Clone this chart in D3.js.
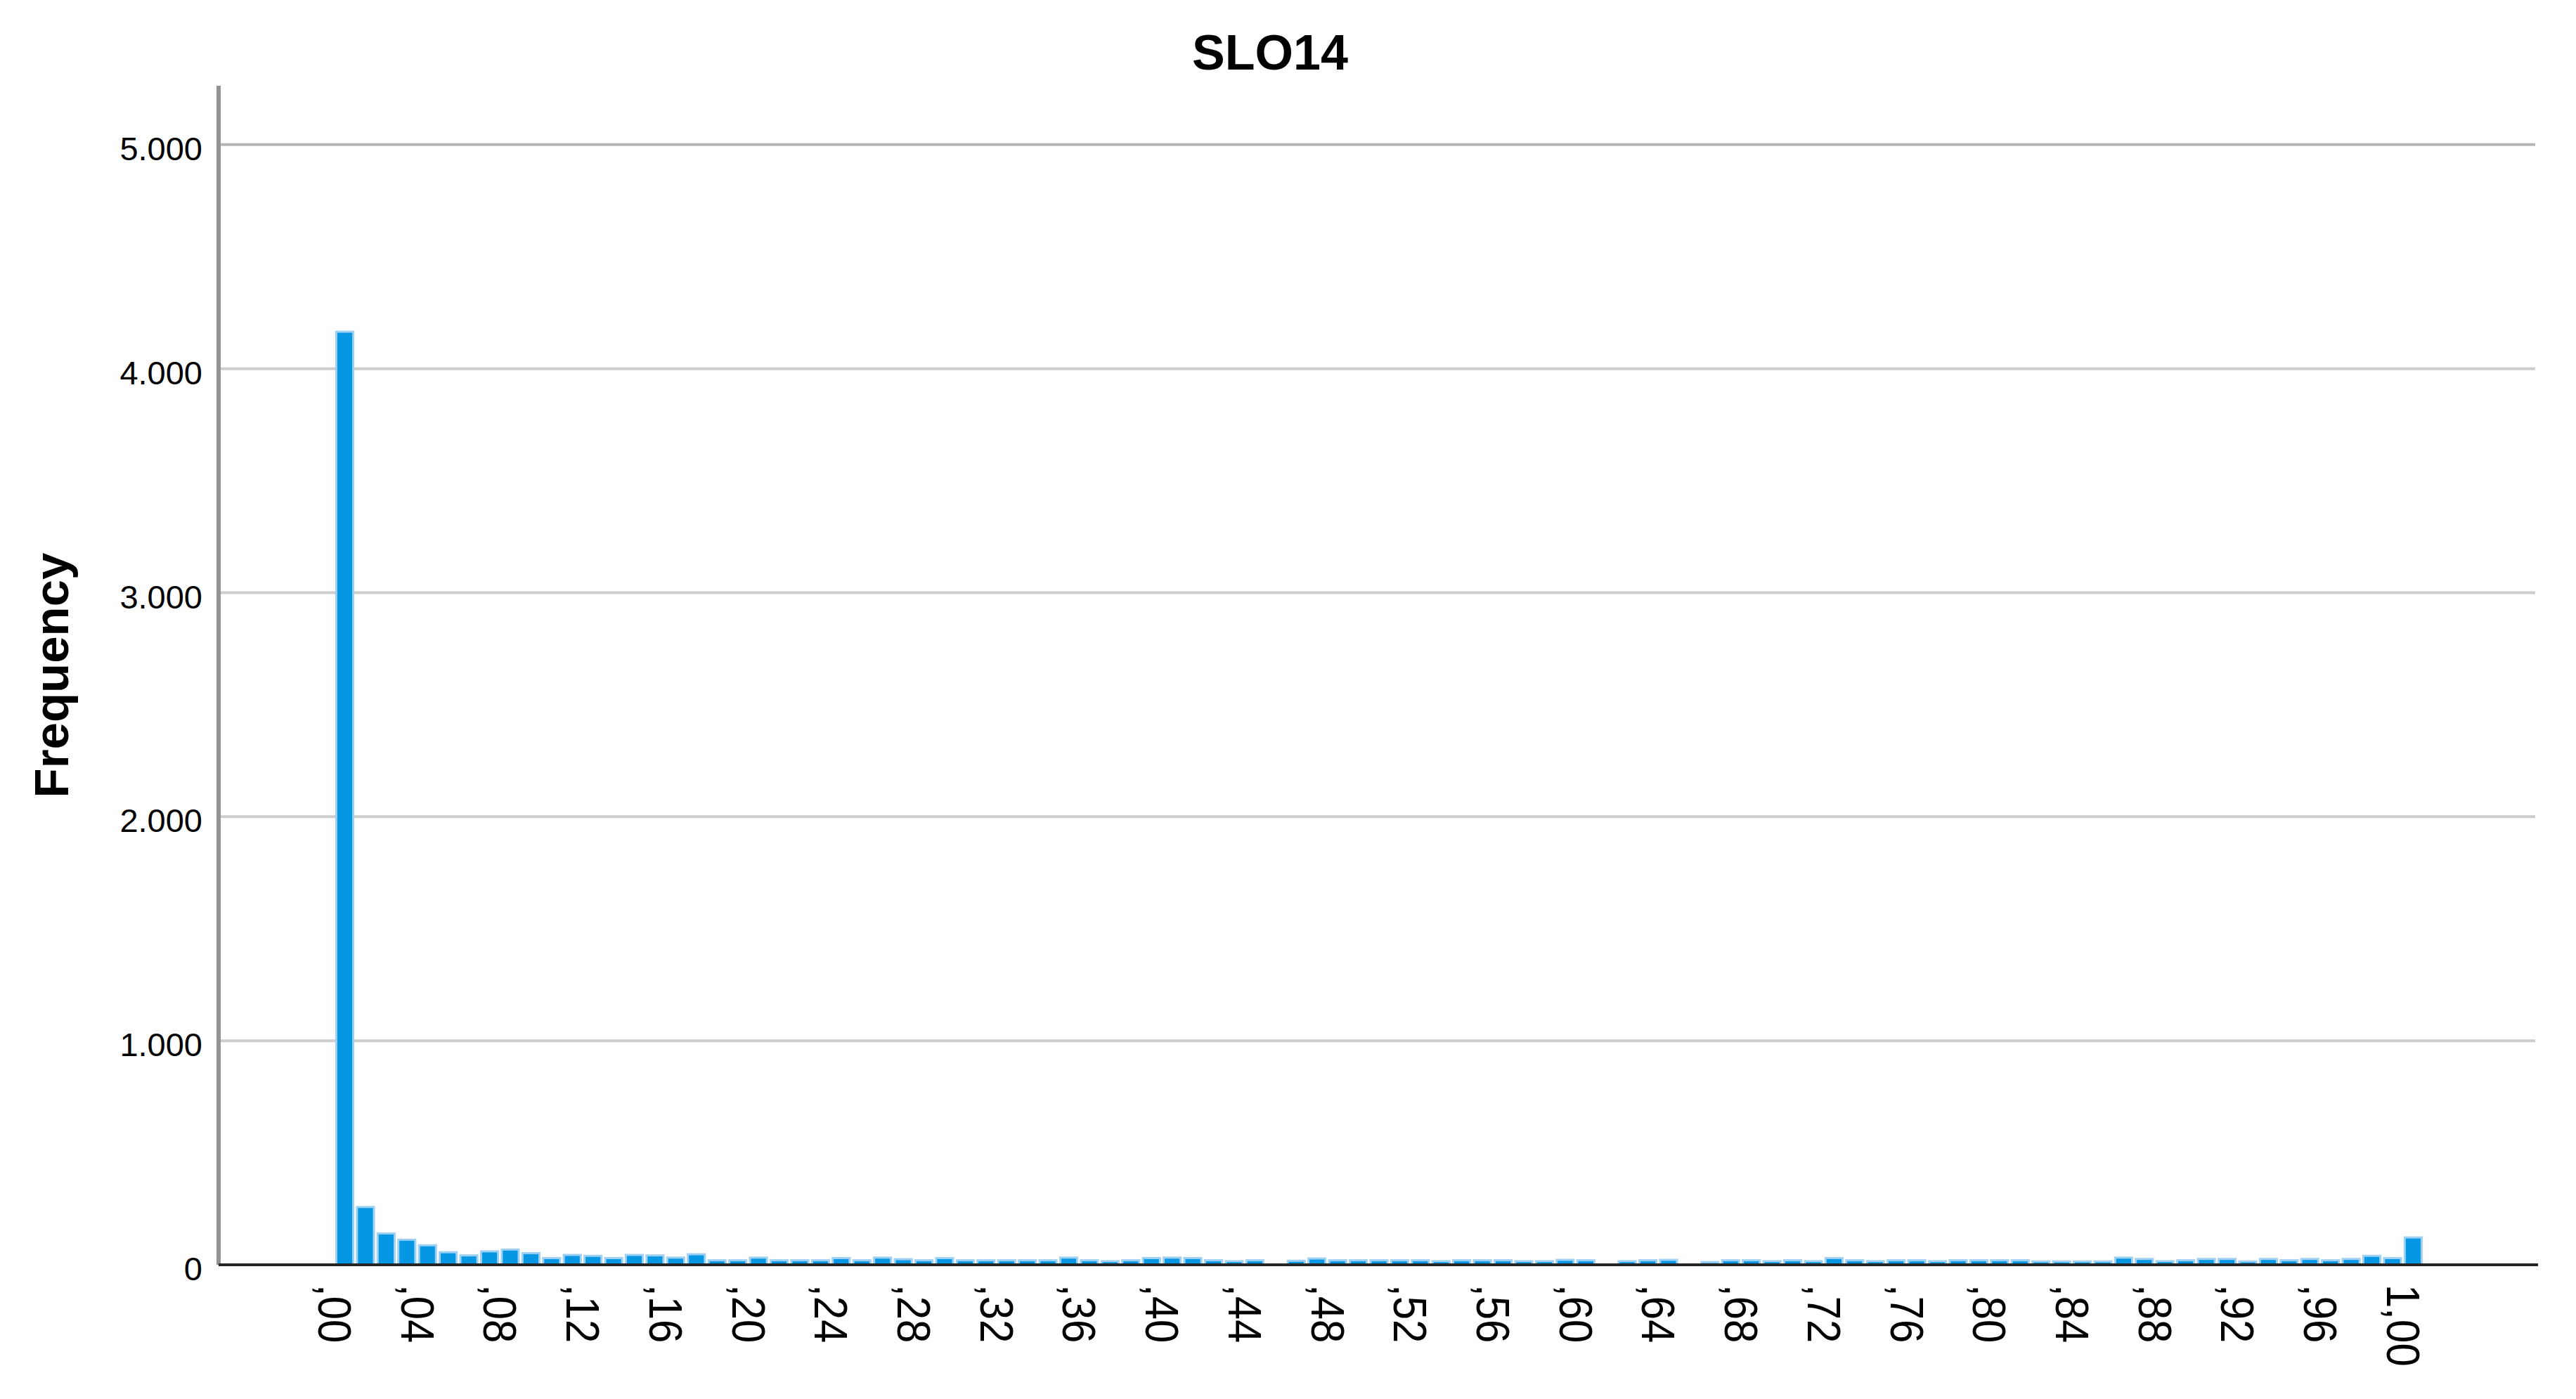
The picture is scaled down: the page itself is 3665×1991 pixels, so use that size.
<!DOCTYPE html>
<html><head><meta charset="utf-8">
<script src="https://cdn.jsdelivr.net/npm/d3@7"></script>
<style>
body{margin:0;background:#fff}
svg{display:block}
text{font-family:"Liberation Sans",Arial,Helvetica,sans-serif;fill:#000}
</style>
</head><body>
<svg id="chart" width="3665" height="1991"></svg>
<script>
// ---------------- data ----------------
const chartTitle = "SLO14";
const yAxisTitle = "Frequency";

const categories = [
  0.00,0.01,0.02,0.03,0.04,0.05,0.06,0.07,0.08,0.09,
  0.10,0.11,0.12,0.13,0.14,0.15,0.16,0.17,0.18,0.19,
  0.20,0.21,0.22,0.23,0.24,0.25,0.26,0.27,0.28,0.29,
  0.30,0.31,0.32,0.33,0.34,0.35,0.36,0.37,0.38,0.39,
  0.40,0.41,0.42,0.43,0.44,0.45,0.46,0.47,0.48,0.49,
  0.50,0.51,0.52,0.53,0.54,0.55,0.56,0.57,0.58,0.59,
  0.60,0.61,0.62,0.63,0.64,0.65,0.66,0.67,0.68,0.69,
  0.70,0.71,0.72,0.73,0.74,0.75,0.76,0.77,0.78,0.79,
  0.80,0.81,0.82,0.83,0.84,0.85,0.86,0.87,0.88,0.89,
  0.90,0.91,0.92,0.93,0.94,0.95,0.96,0.97,0.98,0.99,
  1.00
];

const frequencies = [
  4165, 258, 140, 112, 87, 56, 42, 60, 68, 52,
  30, 44, 40, 30, 44, 42, 32, 47, 20, 20,
  32, 20, 20, 20, 30, 20, 32, 25, 20, 30,
  20, 20, 20, 20, 20, 32, 20, 16, 20, 30,
  32, 30, 20, 16, 20, 0, 18, 28, 20, 20,
  20, 20, 20, 16, 20, 20, 20, 16, 16, 22,
  20, 0, 16, 20, 22, 0, 12, 20, 20, 16,
  20, 16, 30, 20, 16, 20, 20, 16, 20, 20,
  20, 20, 15, 15, 15, 15, 32, 26, 16, 20,
  26, 26, 15, 26, 20, 26, 20, 26, 40, 30,
  122
];

const yTickValues = [0, 1000, 2000, 3000, 4000, 5000];

const xTickValues = [0.00,0.04,0.08,0.12,0.16,0.20,0.24,0.28,0.32,0.36,0.40,0.44,0.48,
                     0.52,0.56,0.60,0.64,0.68,0.72,0.76,0.80,0.84,0.88,0.92,0.96,1.00];
const xTickLabels = [",00",",04",",08",",12",",16",",20",",24",",28",",32",",36",",40",",44",",48",
                     ",52",",56",",60",",64",",68",",72",",76",",80",",84",",88",",92",",96","1,00"];

// ---------------- layout ----------------
const plotLeft = 311, plotRight = 3607, plotBottom = 1800, plotTop = 122;

const svg = d3.select("#chart");
svg.append("rect").attr("width",3665).attr("height",1991).attr("fill","#fff");

const x = d3.scaleLinear().domain([-0.061, 1.059]).range([plotLeft, plotRight]);
const y = d3.scaleLinear().domain([0, 5263]).range([plotBottom, plotTop]);

const step = x(0.01) - x(0);
const barW = step * 0.82;

const locale = d3.formatLocale({decimal: ",", thousands: ".", grouping: [3], currency: ["", ""]});
const fmtY = locale.format(",d");

// gridlines
svg.append("g").selectAll("line")
  .data(yTickValues.filter(d => d > 0))
  .join("line")
  .attr("x1", plotLeft).attr("x2", plotRight)
  .attr("y1", d => y(d)).attr("y2", d => y(d))
  .attr("stroke", (d, i, a) => i === a.length - 1 ? "#b6b6b6" : "#cdcdcd")
  .attr("stroke-width", 4);

// bars
const data = categories.map((c, i) => ({c, v: frequencies[i]}));
svg.append("g").selectAll("rect")
  .data(data.filter(d => d.v > 0))
  .join("rect")
  .attr("x", d => x(d.c) - barW / 2)
  .attr("width", barW)
  .attr("y", d => y(d.v))
  .attr("height", d => y(0) - y(d.v))
  .attr("fill", "#0596e4")
  .attr("stroke", "#9dd0f3")
  .attr("stroke-width", 3);

// y axis (labels)
const yAxis = d3.axisLeft(y).tickValues(yTickValues).tickFormat(fmtY).tickSize(0).tickPadding(23);
const gy = svg.append("g").attr("transform", `translate(${plotLeft},0)`).call(yAxis);
gy.select(".domain").remove();
gy.selectAll("text").attr("font-size", 47).attr("dy", "0.46em")
  .style("font-family", '"Liberation Sans",Arial,sans-serif').attr("fill", "#000");

// y axis line
svg.append("line")
  .attr("x1", plotLeft).attr("x2", plotLeft)
  .attr("y1", plotTop).attr("y2", plotBottom)
  .attr("stroke", "#939393").attr("stroke-width", 6);

// x axis
const xAxis = d3.axisBottom(x).tickValues(xTickValues)
  .tickFormat((d, i) => xTickLabels[i]).tickSize(0);
const gx = svg.append("g").attr("transform", `translate(0,${plotBottom})`).call(xAxis);
gx.select(".domain").remove();
gx.selectAll("text")
  .attr("x", 0).attr("y", 0).attr("dy", 0)
  .attr("text-anchor", "start")
  .attr("font-size", 60)
  .style("font-family", '"Liberation Sans",Arial,sans-serif')
  .attr("fill", "#000")
  .attr("transform", "translate(-38,28) rotate(90) scale(1,1.1)");

// x axis line
svg.append("line")
  .attr("x1", plotLeft).attr("x2", plotRight + 4)
  .attr("y1", y(0)).attr("y2", y(0))
  .attr("stroke", "#262626").attr("stroke-width", 4);

// title
svg.append("text")
  .attr("x", 1807).attr("y", 99)
  .attr("text-anchor", "middle")
  .attr("font-size", 70).attr("font-weight", "bold")
  .text(chartTitle);

// y axis title
svg.append("text")
  .attr("transform", `translate(97,${(plotTop + plotBottom) / 2 + 0}) rotate(-90)`)
  .attr("text-anchor", "middle")
  .attr("font-size", 69).attr("font-weight", "bold")
  .text(yAxisTitle);
</script>
</body></html>
